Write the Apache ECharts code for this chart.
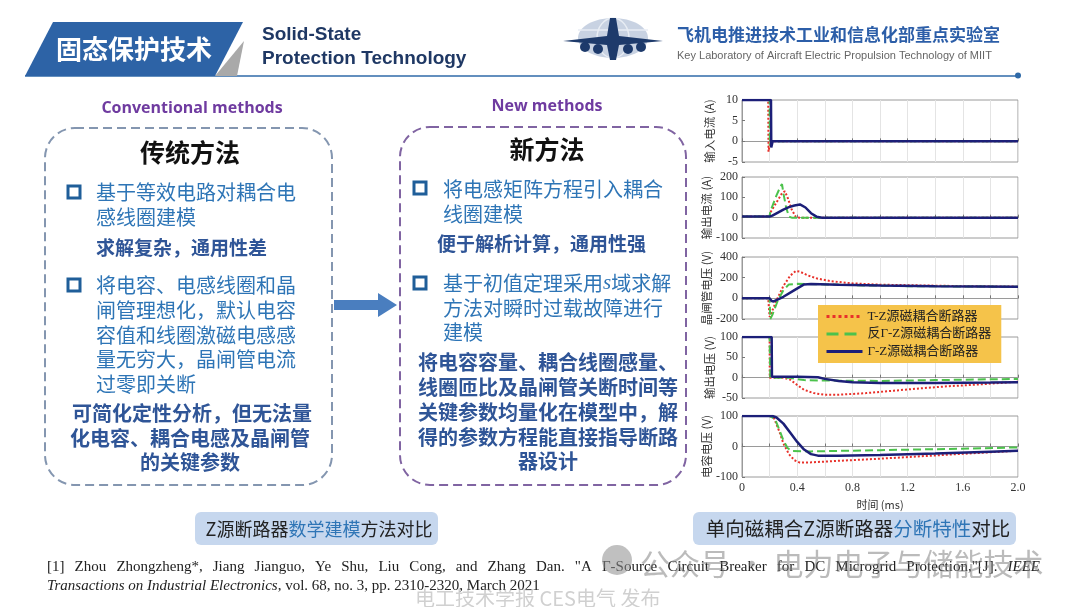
<!DOCTYPE html>
<html><head><meta charset="utf-8">
<script src="https://cdn.jsdelivr.net/npm/echarts/dist/echarts.min.js"></script>
<style>html,body{margin:0;padding:0;background:#fff;}#c{width:1080px;height:607px;}</style>
</head><body><div id="c"></div>
<script>
// ---------- data ----------
const seriesNames = ['T-Z源磁耦合断路器', '反Γ-Z源磁耦合断路器', 'Γ-Z源磁耦合断路器'];
const panelNames = ['输入电流 (A)', '输出电流 (A)', '晶闸管电压 (V)', '输出电压 (V)', '电容电压 (V)'];
const yMins = [-5, -100, -200, -50, -100];
const yMaxs = [10, 200, 400, 100, 100];
const ySteps = [5, 100, 200, 50, 100];
const xMin = 0, xMax = 2, xStep = 0.2;

// 输入电流
const inCurT = [[0,10],[0.19,10],[0.192,-2.5],[0.198,-2.5],[0.205,0],[2,0]];
const inCurR = [[0,10],[0.2,10],[0.202,-1],[0.21,0],[2,0]];
const inCurG = [[0,10],[0.21,10],[0.212,-1.5],[0.218,-1.2],[0.222,0],[2,0]];
// 输出电流
const outCurT = [[0,6],[0.2,6],[0.205,25],[0.25,75],[0.29,120],[0.31,130],[0.33,100],[0.36,40],[0.39,3],[0.42,0],[2,0]];
const outCurR = [[0,6],[0.2,6],[0.205,30],[0.25,110],[0.28,155],[0.29,165],[0.3,120],[0.32,50],[0.34,5],[0.36,0],[2,0]];
const outCurG = [[0,6],[0.2,6],[0.22,10],[0.26,25],[0.3,40],[0.34,52],[0.38,60],[0.42,65],[0.43,66],[0.46,50],[0.5,22],[0.54,5],[0.58,0],[2,0]];
// 晶闸管电压
const thyVT = [[0,0],[0.19,0],[0.2,-180],[0.21,-150],[0.25,-20],[0.3,120],[0.35,220],[0.39,265],[0.42,258],[0.48,220],[0.55,190],[0.65,165],[0.8,145],[1.0,132],[1.3,125],[1.6,118],[2.0,113]];
const thyVR = [[0,0],[0.2,0],[0.205,-200],[0.22,-160],[0.26,-20],[0.3,80],[0.34,135],[0.4,140],[0.6,135],[0.9,125],[1.2,118],[1.6,115],[2.0,112]];
const thyVG = [[0,0],[0.2,0],[0.215,-25],[0.23,-30],[0.3,15],[0.38,80],[0.45,135],[0.5,138],[0.7,132],[1.0,125],[1.4,118],[2.0,112]];
// 输出电压
const outVT = [[0,100],[0.2,100],[0.201,0],[0.3,0],[0.35,-5],[0.4,-18],[0.45,-30],[0.52,-38],[0.6,-42],[0.7,-42],[0.9,-38],[1.1,-32],[1.3,-26],[1.5,-21],[1.7,-17],[2.0,-10]];
const outVR = [[0,100],[0.2,100],[0.205,0],[0.35,0],[0.4,-4],[0.45,-6],[0.6,-7],[1.0,-8],[1.4,-6],[1.8,-4],[2.0,-3]];
const outVG = [[0,100],[0.215,100],[0.217,2],[0.4,2],[0.55,1],[0.6,-3],[0.7,-8],[0.8,-11],[1.0,-13],[1.4,-13],[1.8,-12],[2.0,-11]];
// 电容电压
const capVT = [[0,100],[0.2,100],[0.23,95],[0.27,50],[0.3,10],[0.34,-25],[0.38,-45],[0.42,-53],[0.5,-52],[0.7,-47],[1.0,-40],[1.3,-32],[1.6,-24],[2.0,-14]];
const capVR = [[0,100],[0.2,100],[0.24,90],[0.27,55],[0.3,20],[0.33,-5],[0.36,-15],[0.5,-16],[1.0,-12],[1.5,-8],[2.0,-3]];
const capVG = [[0,100],[0.22,100],[0.25,95],[0.3,75],[0.35,45],[0.4,15],[0.45,-10],[0.5,-25],[0.55,-30],[0.7,-30],[1.0,-28],[1.4,-23],[1.8,-17],[2.0,-14]];

const panelData = [
  [inCurT, inCurR, inCurG],
  [outCurT, outCurR, outCurG],
  [thyVT, thyVR, thyVG],
  [outVT, outVR, outVG],
  [capVT, capVR, capVG]
];

// ---------- layout / style ----------
const gridTops = [100, 177, 257, 337, 416];
const gridHeights = [62, 61, 62, 61, 61];
const lineStyles = [
  {color:'#e8312a', type:'dotted', width:2},
  {color:'#4cc24c', type:'dashed', width:2},
  {color:'#1c1f78', type:'solid', width:2.5}
];
const serif = '"Liberation Serif","Times New Roman",serif';
const cjk = '"Noto Sans CJK SC","Noto Sans",sans-serif';

const grids = [], xAxes = [], yAxes = [], series = [];
for (let i = 0; i < 5; i++) {
  grids.push({left:742, width:276, top:gridTops[i], height:gridHeights[i], show:true,
    borderColor:'#9a9a9a', borderWidth:1, backgroundColor:'#fff', containLabel:false, outerBoundsMode:'none'});
  const last = i === 4;
  xAxes.push({type:'value', gridIndex:i, min:xMin, max:xMax, interval:xStep,
    axisLine:{show:true, lineStyle:{color:'#9a9a9a'}},
    axisTick:{show:true, inside:true, length:3, lineStyle:{color:'#777'}},
    splitLine:{show:true, lineStyle:{color:'#e4e4e4', width:1}},
    axisLabel:{show:last, fontFamily:serif, fontSize:12, color:'#333', margin:5,
      formatter: v => { const k = Math.round(v*10); if (k % 4 !== 0) return ''; return k === 0 ? '0' : (k/10).toFixed(1); }},
    name: last ? '时间 (ms)' : '', nameLocation:'middle', nameGap:22,
    nameTextStyle:{fontFamily:cjk, fontSize:11, color:'#333'}
  });
  yAxes.push({type:'value', gridIndex:i, min:yMins[i], max:yMaxs[i], interval:ySteps[i],
    axisLine:{show:true, lineStyle:{color:'#9a9a9a'}},
    axisTick:{show:true, inside:true, length:3, lineStyle:{color:'#777'}},
    splitLine:{show:false},
    axisLabel:{fontFamily:serif, fontSize:12, color:'#333', margin:4},
    name:panelNames[i], nameLocation:'middle', nameRotate:90, nameGap:27,
    nameTextStyle:{fontFamily:cjk, fontSize:11.5, color:'#333'}
  });
  for (let s = 0; s < 3; s++) {
    series.push({type:'line', name:seriesNames[s], xAxisIndex:i, yAxisIndex:i,
      data:panelData[i][s], showSymbol:false, symbol:'none', lineStyle:lineStyles[s],
      itemStyle:{color:lineStyles[s].color}, animation:false, z:2+s});
  }
}

// ---------- slide decoration ----------
function txt(x, y, text, o) {
  o = o || {};
  return {type:'text', x:x, y:y, z:o.z || 10, style:{text:text, font:o.font || ('20px ' + cjk),
    fill:o.fill || '#2e75b6', align:o.align || 'left', verticalAlign:'middle', rich:o.rich, opacity:o.opacity}};
}
function bullet(x, y) {
  return {type:'rect', z:10, shape:{x:x, y:y-6, width:12, height:12}, style:{fill:'none', stroke:'#1f5e99', lineWidth:3}};
}
const blue = '#2e75b6', bold = '#2f5597';
const fBody = '20px ' + cjk, fBold = 'bold 19px ' + cjk;

function justify(words, x0, x1, y, font, italicSet) {
  const ctx = document.createElement('canvas').getContext('2d');
  const fonts = words.map((w, i) => (italicSet.has(i) ? 'italic ' : '') + font);
  const widths = words.map((w, i) => { ctx.font = fonts[i]; return ctx.measureText(w).width; });
  const total = widths.reduce((a, b) => a + b, 0);
  const gap = (x1 - x0 - total) / (words.length - 1);
  let x = x0; const els = [];
  words.forEach((w, i) => { els.push({type:'text', x:x, y:y, z:10, style:{text:w, font:fonts[i], fill:'#222', verticalAlign:'middle'}}); x += widths[i] + gap; });
  return els;
}
const refWords = '[1] Zhou Zhongzheng*, Jiang Jianguo, Ye Shu, Liu Cong, and Zhang Dan. "A Γ-Source Circuit Breaker for DC Microgrid Protection,"[J]. IEEE'.split(' ');

const graphics = [
  // header
  {type:'polygon', z:5, shape:{points:[[25,76],[53,22],[243,22],[215,76]]}, style:{fill:'#2d63a6'}},
  {type:'polygon', z:5, shape:{points:[[215,76],[244,41],[237,76]]}, style:{fill:'#a9a9a9'}},
  txt(134, 49, '固态保护技术', {font:'bold 26px ' + cjk, fill:'#fff', align:'center'}),
  txt(262, 35, 'Solid-State', {font:'bold 19px "Liberation Sans",Arial,sans-serif', fill:'#1f3864'}),
  txt(262, 59, 'Protection Technology', {font:'bold 19px "Liberation Sans",Arial,sans-serif', fill:'#1f3864'}),
  {type:'line', z:4, shape:{x1:25, y1:76, x2:1018, y2:76}, style:{stroke:'#2f6aa8', lineWidth:1.5}},
  {type:'circle', z:4, shape:{cx:1018, cy:75.5, r:3}, style:{fill:'#2f6aa8'}},
  // logo
  {type:'ellipse', z:5, shape:{cx:613, cy:38, rx:35, ry:20}, style:{fill:'#c8d2e2'}},
  {type:'ellipse', z:5, shape:{cx:613, cy:38, rx:16, ry:20}, style:{fill:'none', stroke:'#e8edf4', lineWidth:1.5}},
  {type:'line', z:5, shape:{x1:578, y1:30, x2:648, y2:30}, style:{stroke:'#e8edf4', lineWidth:1.5}},
  {type:'polygon', z:6, shape:{points:[[563,41],[607,36],[610,18],[616,18],[619,36],[663,41],[619,45],[616,60],[610,60],[607,45]]}, style:{fill:'#1d3a6b'}},
  {type:'circle', z:6, shape:{cx:585, cy:47, r:5}, style:{fill:'#1d3a6b'}},
  {type:'circle', z:6, shape:{cx:598, cy:49, r:5}, style:{fill:'#1d3a6b'}},
  {type:'circle', z:6, shape:{cx:628, cy:49, r:5}, style:{fill:'#1d3a6b'}},
  {type:'circle', z:6, shape:{cx:641, cy:47, r:5}, style:{fill:'#1d3a6b'}},
  txt(677, 35, '飞机电推进技术工业和信息化部重点实验室', {font:'bold 17px ' + cjk, fill:'#2c5ea8'}),
  txt(677, 56, 'Key Laboratory of Aircraft Electric Propulsion Technology of MIIT', {font:'11px "Liberation Sans",Arial,sans-serif', fill:'#666'}),

  // left box
  txt(192, 108, 'Conventional methods', {font:'bold 16px "Open Sans","Liberation Sans",sans-serif', fill:'#6f3ba0', align:'center'}),
  {type:'rect', z:8, shape:{x:45, y:128, width:287, height:357, r:30}, style:{fill:'none', stroke:'#8496b0', lineWidth:2, lineDash:[9,5]}},
  txt(190, 152, '传统方法', {font:'bold 25px ' + cjk, fill:'#111', align:'center'}),
  bullet(68, 192),
  txt(96, 192, '基于等效电路对耦合电', {font:fBody, fill:blue}),
  txt(96, 217, '感线圈建模', {font:fBody, fill:blue}),
  txt(96, 248, '求解复杂，通用性差', {font:fBold, fill:bold}),
  bullet(68, 285),
  txt(96, 285, '将电容、电感线圈和晶', {font:fBody, fill:blue}),
  txt(96, 310, '闸管理想化，默认电容', {font:fBody, fill:blue}),
  txt(96, 335, '容值和线圈激磁电感感', {font:fBody, fill:blue}),
  txt(96, 359, '量无穷大，晶闸管电流', {font:fBody, fill:blue}),
  txt(96, 384, '过零即关断', {font:fBody, fill:blue}),
  txt(192, 413, '可简化定性分析，但无法量', {font:'bold 20px ' + cjk, fill:bold, align:'center'}),
  txt(190, 438, '化电容、耦合电感及晶闸管', {font:'bold 20px ' + cjk, fill:bold, align:'center'}),
  txt(190, 462, '的关键参数', {font:'bold 20px ' + cjk, fill:bold, align:'center'}),

  // arrow
  {type:'polygon', z:8, shape:{points:[[334,300],[378,300],[378,293],[397,305],[378,317],[378,310],[334,310]]}, style:{fill:'#4a7ebf'}},

  // right box
  txt(547, 106, 'New methods', {font:'bold 16px "Open Sans","Liberation Sans",sans-serif', fill:'#6f3ba0', align:'center'}),
  {type:'rect', z:8, shape:{x:400, y:127, width:286, height:358, r:30}, style:{fill:'none', stroke:'#8064a2', lineWidth:2, lineDash:[9,5]}},
  txt(547, 149, '新方法', {font:'bold 25px ' + cjk, fill:'#111', align:'center'}),
  bullet(414, 188),
  txt(443, 189, '将电感矩阵方程引入耦合', {font:fBody, fill:blue}),
  txt(443, 214, '线圈建模', {font:fBody, fill:blue}),
  txt(437, 244, '便于解析计算，通用性强', {font:fBold, fill:bold}),
  bullet(414, 283),
  {type:'text', x:443, y:283, z:10, style:{text:'{a|基于初值定理采用}{s|s}{a|域求解}', verticalAlign:'middle',
    rich:{a:{font:fBody, fill:blue}, s:{font:'italic 21px ' + serif, fill:blue}}}},
  txt(443, 308, '方法对瞬时过载故障进行', {font:fBody, fill:blue}),
  txt(443, 332, '建模', {font:fBody, fill:blue}),
  txt(548, 362, '将电容容量、耦合线圈感量、', {font:'bold 20px ' + cjk, fill:bold, align:'center'}),
  txt(548, 387, '线圈匝比及晶闸管关断时间等', {font:'bold 20px ' + cjk, fill:bold, align:'center'}),
  txt(548, 412, '关键参数均量化在模型中，解', {font:'bold 20px ' + cjk, fill:bold, align:'center'}),
  txt(548, 437, '得的参数方程能直接指导断路', {font:'bold 20px ' + cjk, fill:bold, align:'center'}),
  txt(548, 461, '器设计', {font:'bold 20px ' + cjk, fill:bold, align:'center'}),

  // bottom captions
  {type:'rect', z:8, shape:{x:195, y:512, width:243, height:33, r:6}, style:{fill:'#c6d7ee'}},
  {type:'text', x:319, y:529, z:10, style:{text:'{a|Z源断路器}{b|数学建模}{a|方法对比}', align:'center', verticalAlign:'middle',
    rich:{a:{font:'18px ' + cjk, fill:'#222'}, b:{font:'18px ' + cjk, fill:'#2e75b6'}}}},
  {type:'rect', z:8, shape:{x:693, y:512, width:323, height:33, r:6}, style:{fill:'#c6d7ee'}},
  {type:'text', x:858, y:529, z:10, style:{text:'{a|单向磁耦合Z源断路器}{b|分断特性}{a|对比}', align:'center', verticalAlign:'middle',
    rich:{a:{font:'19.5px ' + cjk, fill:'#222'}, b:{font:'19.5px ' + cjk, fill:'#2e75b6'}}}},

  // reference line 2
  {type:'text', x:47, y:586, z:10, style:{text:'{i|Transactions on Industrial Electronics}{n|, vol. 68, no. 3, pp. 2310-2320, March 2021}', verticalAlign:'middle',
    rich:{i:{font:'italic 15px ' + serif, fill:'#222'}, n:{font:'15px ' + serif, fill:'#222'}}}},

  // watermarks
  {type:'circle', z:20, shape:{cx:617, cy:560, r:15}, style:{fill:'rgba(140,140,140,0.55)'}},
  txt(640, 564, '公众号 · 电力电子与储能技术', {font:'30px ' + cjk, fill:'rgba(120,120,120,0.5)', z:20}),
  txt(415, 598, '电工技术学报 CES电气 发布', {font:'20px ' + cjk, fill:'rgba(150,150,150,0.45)', z:20})
].concat(justify(refWords, 47, 1040, 567, '15px ' + serif, new Set([refWords.length - 1])));

const chart = echarts.init(document.getElementById('c'));
chart.setOption({
  backgroundColor:'#fff',
  animation:false,
  grid:grids, xAxis:xAxes, yAxis:yAxes, series:series,
  legend:{data:seriesNames, orient:'vertical', left:818, top:305, z:30,
    backgroundColor:'#f5c34a', borderWidth:0, padding:[5,10,5,7], itemGap:4.5,
    itemWidth:36, itemHeight:13, align:'left',
    itemStyle:{opacity:0},
    lineStyle:{width:3},
    textStyle:{fontFamily:'"Liberation Serif","Noto Sans CJK SC",serif', fontSize:13, color:'#222'}},
  graphic:graphics
});
</script>
</body></html>
